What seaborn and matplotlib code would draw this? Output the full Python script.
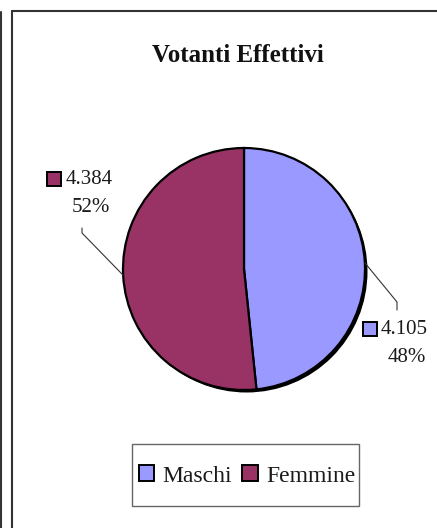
import matplotlib
matplotlib.use("Agg")
import matplotlib.pyplot as plt
import matplotlib.patches as mpatches
from matplotlib.lines import Line2D
import numpy as np
import seaborn as sns

# ── Data ─────────────────────────────────────────────────────
title = "Votanti Effettivi"
categories = ["Maschi", "Femmine"]
votes = [4105, 4384]
colors = ["#9999FF", "#993366"]

# ── Style ────────────────────────────────────────────────────
sns.set_theme(style="white")
plt.rcParams["font.family"] = ["Liberation Serif", "DejaVu Serif"]

W, H = 437, 528
fig = plt.figure(figsize=(W / 100, H / 100), dpi=100)
ax = fig.add_axes([0, 0, 1, 1])


def Y(y):
    # image row (top-down) -> data y (bottom-up)
    return H - y


cx, cy, r = 244, Y(269), 121

# shadow behind the pie
ax.add_patch(mpatches.Circle((cx + 2.5, cy - 2.5), r, facecolor="black",
                             edgecolor="none", zorder=1))
wedges, _ = ax.pie(votes, colors=colors, startangle=90, counterclock=False,
                   center=(cx, cy), radius=r,
                   wedgeprops=dict(edgecolor="black", linewidth=1.6))
for w in wedges:
    w.set_zorder(2)

ax.set_xlim(0, W)
ax.set_ylim(0, H)
ax.set_aspect("equal")
ax.axis("off")

total = sum(votes)
fmt = lambda v: f"{v:,}".replace(",", ".")

# label layout: square, number row, percent row, leader elbow and end
layout = {
    "Maschi":  dict(sq=(363, 322), txt=(381, 329), pct=(407, 358),
                    elbow=(397, 302), end=(397, 310)),
    "Femmine": dict(sq=(47, 172), txt=(66, 179), pct=(91, 207),
                    elbow=(82, 233), end=(82, 228)),
}

for w, cat, v, c in zip(wedges, categories, votes, colors):
    lay = layout[cat]
    mid = np.deg2rad((w.theta1 + w.theta2) / 2)
    px, py = cx + r * np.cos(mid), cy + r * np.sin(mid)
    ex, ey = lay["elbow"]
    fx, fy = lay["end"]
    ax.add_line(Line2D([px, ex, fx], [py, Y(ey), Y(fy)], color="#333333",
                       linewidth=0.8, zorder=3))
    sx, sy = lay["sq"]
    ax.add_patch(mpatches.Rectangle((sx, Y(sy + 14)), 14, 14, facecolor=c,
                                    edgecolor="black", linewidth=1.4, zorder=3))
    tx, ty = lay["txt"]
    ax.text(tx, Y(ty), fmt(v), ha="left", va="center", fontsize=15,
            color="#1a1a1a")
    qx, qy = lay["pct"]
    ax.text(qx, Y(qy), f"{v / total:.0%}", ha="center", va="center",
            fontsize=15, color="#1a1a1a")

# title
fig.text(238 / W, 1 - 56 / H, title, ha="center", va="center",
         fontsize=18, fontweight="bold", color="#111111")

# legend box + entries
ax.add_patch(mpatches.Rectangle((132, Y(506)), 227, 62, facecolor="white",
                                edgecolor="#666666", linewidth=1.0, zorder=3))
handles = [mpatches.Patch(facecolor=c, edgecolor="black", linewidth=1.4)
           for c in colors]
leg = fig.legend(handles, categories, ncol=2, loc="center",
                 bbox_to_anchor=(247 / W, 1 - 476 / H), fontsize=17,
                 frameon=False, handlelength=0.65, handleheight=0.65,
                 handletextpad=0.35, columnspacing=0.45,
                 borderpad=0, borderaxespad=0)
leg.set_zorder(5)
for t in leg.get_texts():
    t.set_color("#1a1a1a")

# outer frame lines (cropped chart border)
frame_kw = dict(color="#333333", linewidth=1.5, transform=fig.transFigure)
fig.add_artist(Line2D([11.5 / W, 11.5 / W], [1 - 10.5 / H, 0], **frame_kw))
fig.add_artist(Line2D([11.5 / W, 1], [1 - 10.5 / H, 1 - 10.5 / H], **frame_kw))
fig.add_artist(Line2D([0.8 / W, 0.8 / W], [1 - 12 / H, 0], **frame_kw))

fig.savefig("out.png", dpi=100)
